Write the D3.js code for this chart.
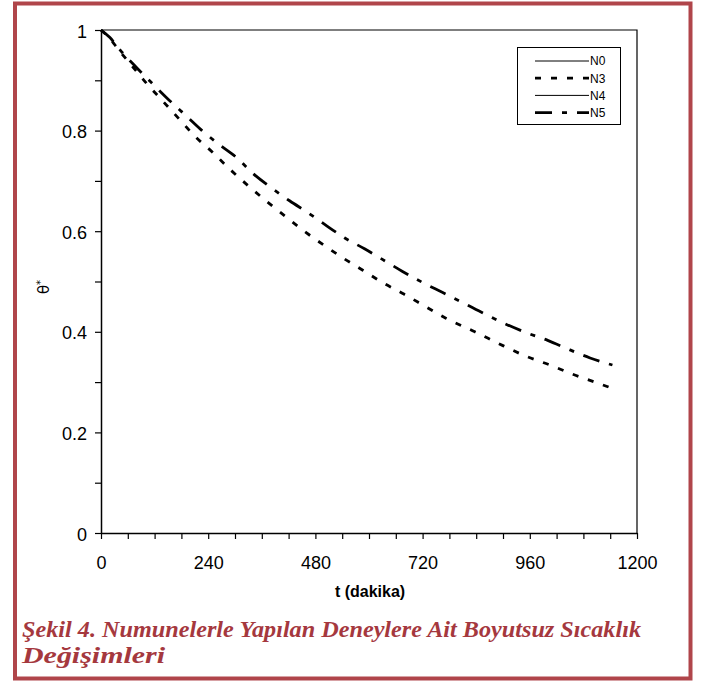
<!DOCTYPE html>
<html>
<head>
<meta charset="utf-8">
<script src="https://cdn.jsdelivr.net/npm/d3@7"></script>
<style>
  body { margin: 0; background: #fff; }
  svg { display: block; }
</style>
</head>
<body>
<div id="chart"></div>
<script>
// time in minutes and dimensionless temperature
var timeN3 = [0, 20, 40, 70, 100, 140, 175, 210, 251, 290, 330, 370, 412, 455, 501, 545, 587, 630, 678, 725, 772, 837, 901, 950, 1005, 1055, 1106, 1143];
var thetaN3 = [1.000, 0.983, 0.960, 0.928, 0.896, 0.857, 0.823, 0.789, 0.756, 0.722, 0.690, 0.660, 0.630, 0.600, 0.571, 0.545, 0.522, 0.498, 0.475, 0.451, 0.427, 0.400, 0.372, 0.352, 0.334, 0.316, 0.300, 0.288];

var timeN5 = [0, 20, 40, 81, 120, 152, 190, 225, 265, 304, 340, 382, 423, 463, 500, 545, 590, 630, 675, 720, 765, 812, 860, 902, 950, 1000, 1050, 1095, 1145];
var thetaN5 = [1.000, 0.985, 0.963, 0.924, 0.889, 0.861, 0.830, 0.801, 0.772, 0.746, 0.715, 0.686, 0.660, 0.637, 0.614, 0.587, 0.565, 0.544, 0.520, 0.498, 0.478, 0.457, 0.435, 0.417, 0.399, 0.383, 0.364, 0.348, 0.334];

// N0 and N4 are listed in the legend but nothing of them shows in the plot
var timeN0 = [], thetaN0 = [];
var timeN4 = [], thetaN4 = [];

var seriesNames = ["N0", "N3", "N4", "N5"];

var xMajor = [0, 240, 480, 720, 960, 1200];
var xTickLabels = ["0", "240", "480", "720", "960", "1200"];
var yMajor = [0, 0.2, 0.4, 0.6, 0.8, 1];
var yTickLabels = ["0", "0.2", "0.4", "0.6", "0.8", "1"];

var W = 702, H = 681;
var plot = { left: 101, right: 637, top: 30, bottom: 533 };

var svg = d3.select("#chart").append("svg")
    .attr("width", W)
    .attr("height", H);

// red frame round the figure
svg.append("rect")
    .attr("x", 15).attr("y", 3.5)
    .attr("width", 675.5).attr("height", 675)
    .attr("fill", "none")
    .attr("stroke", "#b0454a")
    .attr("stroke-width", 4);

var x = d3.scaleLinear().domain([0, 1200]).range([plot.left, plot.right]);
var y = d3.scaleLinear().domain([0, 1]).range([plot.bottom, plot.top]);

// box: top and right edges
svg.append("path")
    .attr("d", "M" + x(0) + "," + y(1) + "H" + x(1200) + "V" + y(0))
    .attr("fill", "none")
    .attr("stroke", "#000")
    .attr("stroke-width", 1.2);

// x axis, a tick every 60 min, labels every 240
var xTicks = d3.range(0, 1201, 60);
var xAxis = svg.append("g")
    .attr("transform", "translate(0," + plot.bottom + ")")
    .call(d3.axisBottom(x)
        .tickValues(xTicks)
        .tickSize(6)
        .tickSizeOuter(0)
        .tickPadding(17)
        .tickFormat(function (d) {
            var i = xMajor.indexOf(d);
            return i < 0 ? "" : xTickLabels[i];
        }));

// y axis, a tick every 0.1, labels every 0.2
var yTicks = d3.range(0, 11).map(function (i) { return i / 10; });
var yAxis = svg.append("g")
    .attr("transform", "translate(" + plot.left + ",0)")
    .call(d3.axisLeft(y)
        .tickValues(yTicks)
        .tickSize(6)
        .tickSizeOuter(0)
        .tickPadding(8)
        .tickFormat(function (d) {
            var i = yMajor.findIndex(function (v) { return Math.abs(v - d) < 1e-9; });
            return i < 0 ? "" : yTickLabels[i];
        }));

[xAxis, yAxis].forEach(function (g) {
    g.selectAll("text")
        .attr("font-family", "'Liberation Sans', Arial, sans-serif")
        .attr("font-size", 18)
        .attr("fill", "#000");
    g.selectAll("line").attr("stroke", "#000").attr("stroke-width", 1.2);
    g.select(".domain").attr("stroke", "#000").attr("stroke-width", 1.5);
});
yAxis.selectAll("text").attr("dy", "0.39em");

// axis titles
svg.append("text")
    .attr("x", 370)
    .attr("y", 597)
    .attr("text-anchor", "middle")
    .attr("font-family", "'Liberation Sans', Arial, sans-serif")
    .attr("font-size", 16)
    .attr("font-weight", "bold")
    .text("t (dakika)");

var yTitle = svg.append("text")
    .attr("transform", "translate(49,287) rotate(-90)")
    .attr("text-anchor", "middle")
    .attr("font-family", "'DejaVu Sans', sans-serif")
    .attr("font-size", 15);
yTitle.append("tspan").text("θ");
yTitle.append("tspan")
    .attr("dy", "-0.55em")
    .attr("font-size", 10)
    .text("*");

// series styles
var styles = {
    N0: { width: 1, dash: null },
    N3: { width: 2.8, dash: "6,10" },
    N4: { width: 1, dash: null },
    N5: { width: 2.8, dash: "17,10,5,10" }
};

var seriesData = {
    N0: d3.zip(timeN0, thetaN0),
    N3: d3.zip(timeN3, thetaN3),
    N4: d3.zip(timeN4, thetaN4),
    N5: d3.zip(timeN5, thetaN5)
};

var line = d3.line()
    .x(function (d) { return x(d[0]); })
    .y(function (d) { return y(d[1]); })
    .curve(d3.curveMonotoneX);

seriesNames.forEach(function (name) {
    var pts = seriesData[name];
    if (!pts.length) return;
    svg.append("path")
        .datum(pts)
        .attr("d", line)
        .attr("fill", "none")
        .attr("stroke", "#000")
        .attr("stroke-width", styles[name].width)
        .attr("stroke-dasharray", styles[name].dash);
});

// legend
var legend = svg.append("g");
legend.append("rect")
    .attr("x", 517.5).attr("y", 47.5)
    .attr("width", 103).attr("height", 77)
    .attr("fill", "#fff")
    .attr("stroke", "#000")
    .attr("stroke-width", 1);

var rows = legend.selectAll("g.row")
    .data(seriesNames)
    .enter()
    .append("g")
    .attr("class", "row")
    .attr("transform", function (d, i) {
        return "translate(0," + (61 + i * 17.2) + ")";
    });

rows.append("line")
    .attr("x1", 535).attr("x2", 589)
    .attr("stroke", "#000")
    .attr("stroke-width", function (d) { return styles[d].width; })
    .attr("stroke-dasharray", function (d) { return styles[d].dash; });

rows.append("text")
    .attr("x", 590)
    .attr("dy", "0.36em")
    .attr("font-family", "'Liberation Sans', Arial, sans-serif")
    .attr("font-size", 12)
    .text(function (d) { return d; });

// caption
var caption = svg.append("g")
    .attr("font-family", "'Liberation Serif', 'Times New Roman', serif")
    .attr("font-weight", "bold")
    .attr("font-style", "italic")
    .attr("font-size", 23)
    .attr("fill", "#a5383e");
caption.append("text")
    .attr("x", 22).attr("y", 637)
    .attr("textLength", 619)
    .attr("lengthAdjust", "spacingAndGlyphs")
    .text("Şekil 4. Numunelerle Yapılan Deneylere Ait Boyutsuz Sıcaklık");
caption.append("text")
    .attr("x", 22).attr("y", 663)
    .attr("textLength", 143)
    .attr("lengthAdjust", "spacingAndGlyphs")
    .text("Değişimleri");
</script>
</body>
</html>
